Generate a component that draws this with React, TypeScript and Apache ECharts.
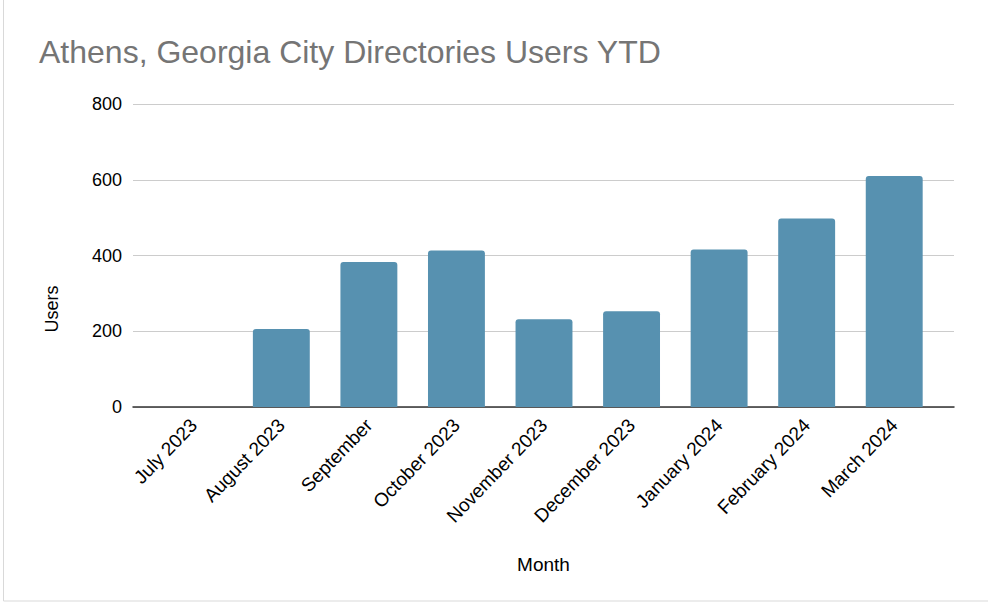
import React, { useEffect, useRef } from "react";
import * as echarts from "echarts";

const months = [
  "July 2023",
  "August 2023",
  "September",
  "October 2023",
  "November 2023",
  "December 2023",
  "January 2024",
  "February 2024",
  "March 2024",
];
const users = [0, 206, 383, 413, 232, 253, 416, 498, 610];
const yTicks = { min: 0, max: 800, interval: 200 };

const FONT = "Liberation Sans";

export default function App() {
  const ref = useRef<HTMLDivElement>(null);
  useEffect(() => {
    if (!ref.current) return;
    const chart = echarts.init(ref.current, undefined, { renderer: "svg" });
    chart.setOption({
      animation: false,
      backgroundColor: "#ffffff",
      title: {
        text: "Athens, Georgia City Directories Users YTD",
        left: 34,
        top: 31,
        textStyle: {
          fontFamily: FONT,
          fontSize: 32,
          fontWeight: "normal",
          color: "#757575",
        },
      },
      grid: [
        { left: 133, right: 34, top: 104, bottom: 197 },
        { left: 150, right: 50, top: 104, bottom: 197 },
      ],
      xAxis: [
        {
          gridIndex: 0,
          type: "value",
          min: 0,
          max: 1,
          name: "Month",
          nameLocation: "middle",
          nameGap: 148,
          nameTextStyle: { fontFamily: FONT, fontSize: 19, color: "#000" },
          axisLine: { show: true, onZero: false, lineStyle: { color: "#333", width: 1.5 } },
          axisTick: { show: false },
          axisLabel: { show: false },
          splitLine: { show: false },
        },
        {
          gridIndex: 1,
          type: "category",
          data: months,
          axisLine: { show: false },
          axisTick: { show: false },
          axisLabel: {
            rotate: 46,
            interval: 0,
            margin: 15,
            fontFamily: FONT,
            fontSize: 19,
            color: "#000",
          },
        },
      ],
      yAxis: [
        {
          gridIndex: 0,
          type: "value",
          min: yTicks.min,
          max: yTicks.max,
          interval: yTicks.interval,
          axisLine: { show: false },
          axisTick: { show: false },
          axisLabel: { fontFamily: FONT, fontSize: 18, color: "#000", margin: 11 },
          splitLine: { lineStyle: { color: "#cccccc", width: 1.2 } },
        },
        {
          gridIndex: 1,
          type: "value",
          min: yTicks.min,
          max: yTicks.max,
          interval: yTicks.interval,
          axisLine: { show: false },
          axisTick: { show: false },
          axisLabel: { show: false },
          splitLine: { show: false },
        },
      ],
      graphic: [
        {
          type: "text",
          x: 43,
          y: 309,
          rotation: Math.PI / 2,
          style: {
            text: "Users",
            fontFamily: FONT,
            fontSize: 18,
            fill: "#000",
            align: "center",
            verticalAlign: "top",
          },
        },
        {
          type: "rect",
          shape: { x: 3.5, y: -2, width: 990, height: 603 },
          style: { fill: "none", stroke: "#d9d9d9", lineWidth: 1 },
          silent: true,
        },
      ],
      series: [
        {
          type: "bar",
          xAxisIndex: 1,
          yAxisIndex: 1,
          data: users,
          barCategoryGap: "35%",
          itemStyle: { color: "#5791b0", borderRadius: [3, 3, 0, 0] },
        },
      ],
    });
    return () => chart.dispose();
  }, []);
  return (
    <div
      ref={ref}
      style={{ position: "fixed", left: 0, top: 0, width: 988, height: 604 }}
    />
  );
}
